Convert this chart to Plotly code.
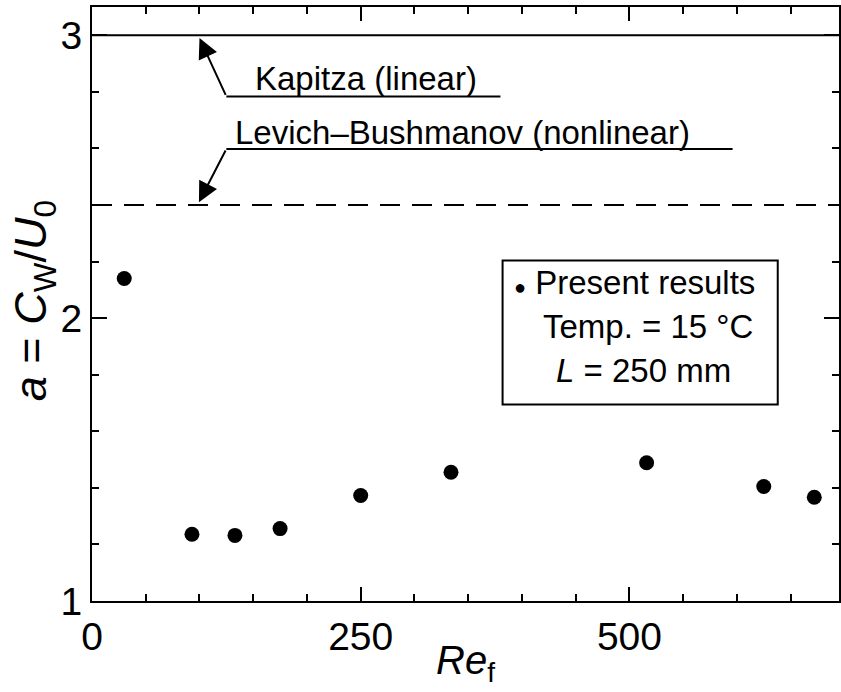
import plotly.graph_objects as go

# Wave celerity ratio a = C_W / U_0 against film Reynolds number
re_f = [30, 93, 133, 175, 250, 334, 516, 625, 672]
celerity_ratio = [2.14, 1.236, 1.232, 1.256, 1.373, 1.455, 1.489, 1.405, 1.367]

# Theoretical values
kapitza_a = 3.0
levich_a = 2.4

x_ticks = [0, 250, 500]
y_ticks = [1, 2, 3]

FONT = "Liberation Sans, Arial, Helvetica, sans-serif"
BLACK = "#000000"
LABEL_SIZE = 33

fig = go.Figure()

fig.add_trace(go.Scatter(
    x=re_f, y=celerity_ratio, mode="markers",
    marker=dict(size=15, color=BLACK, line=dict(width=0)),
    showlegend=False, hoverinfo="skip",
))

# Theory lines across the full width
fig.add_hline(y=kapitza_a, line=dict(color=BLACK, width=2))
fig.add_hline(y=levich_a, line=dict(color=BLACK, width=2, dash="20px,12px"))

# Leader lines under the labels
fig.add_shape(type="line", x0=125, x1=380, y0=2.784, y1=2.784,
              line=dict(color=BLACK, width=2))
fig.add_shape(type="line", x0=125, x1=596, y0=2.598, y1=2.598,
              line=dict(color=BLACK, width=2))

# Arrows from the leaders to each theory line
fig.add_annotation(x=100, y=2.99, ax=125, ay=2.784, axref="x", ayref="y",
                   text="", showarrow=True, arrowhead=2, arrowsize=2,
                   arrowwidth=2, arrowcolor=BLACK)
fig.add_annotation(x=99.5, y=2.41, ax=125, ay=2.598, axref="x", ayref="y",
                   text="", showarrow=True, arrowhead=2, arrowsize=2,
                   arrowwidth=2, arrowcolor=BLACK)

fig.add_annotation(x=150, y=2.848, text="Kapitza (linear)", showarrow=False,
                   xanchor="left", yanchor="middle",
                   font=dict(family=FONT, size=LABEL_SIZE, color=BLACK))
fig.add_annotation(x=131, y=2.657, text="Levich\u2013Bushmanov (nonlinear)",
                   showarrow=False, xanchor="left", yanchor="middle",
                   font=dict(family=FONT, size=LABEL_SIZE, color=BLACK))

# Key box
fig.add_shape(type="rect", x0=382, x1=638, y0=1.695, y1=2.204,
              line=dict(color=BLACK, width=2), fillcolor="white")
fig.add_annotation(x=391, y=2.125, xanchor="left", yanchor="middle",
                   text="<span style='font-size:20px'>\u25CF</span> Present results",
                   showarrow=False, font=dict(family=FONT, size=LABEL_SIZE, color=BLACK))
fig.add_annotation(x=418, y=1.972, xanchor="left", yanchor="middle",
                   text="Temp. = 15 \u00B0C", showarrow=False,
                   font=dict(family=FONT, size=LABEL_SIZE, color=BLACK))
fig.add_annotation(x=430, y=1.815, xanchor="left", yanchor="middle",
                   text="<i>L</i> = 250 mm", showarrow=False,
                   font=dict(family=FONT, size=LABEL_SIZE, color=BLACK))

# Axis titles
fig.add_annotation(xref="paper", yref="paper", x=0.5, y=-0.105,
                   xanchor="center", yanchor="middle",
                   text="<i>Re</i><sub>f</sub>", showarrow=False,
                   font=dict(family=FONT, size=40, color=BLACK))
fig.add_annotation(xref="paper", yref="paper", x=-0.078, y=0.506,
                   xanchor="center", yanchor="middle", textangle=-90,
                   text="<i>a</i> = <i>C</i><sub>W</sub>/<i>U</i><sub>0</sub>",
                   showarrow=False,
                   font=dict(family=FONT, size=45, color=BLACK))

axis_common = dict(
    showgrid=False, zeroline=False, showline=True, linecolor=BLACK,
    linewidth=2, mirror="ticks", ticks="inside", tickcolor=BLACK,
    tickwidth=2, tickfont=dict(family=FONT, size=39, color=BLACK),
)

fig.update_xaxes(
    range=[0, 695], tickmode="array", tickvals=x_ticks,
    ticktext=[str(v) for v in x_ticks], ticklen=14,
    minor=dict(dtick=50, tick0=0, ticks="inside", ticklen=7,
               tickwidth=2, tickcolor=BLACK, showgrid=False),
    **axis_common,
)
fig.update_yaxes(
    range=[1, 3.1], tickmode="array", tickvals=y_ticks,
    ticktext=[str(v) for v in y_ticks], ticklen=15,
    minor=dict(dtick=0.2, tick0=1, ticks="inside", ticklen=7,
               tickwidth=2, tickcolor=BLACK, showgrid=False),
    **axis_common,
)

fig.update_layout(
    width=841, height=692,
    margin=dict(l=92, r=0, t=7, b=91),
    paper_bgcolor="white", plot_bgcolor="white",
    font=dict(family=FONT, color=BLACK),
)

fig.write_html("out.html")
